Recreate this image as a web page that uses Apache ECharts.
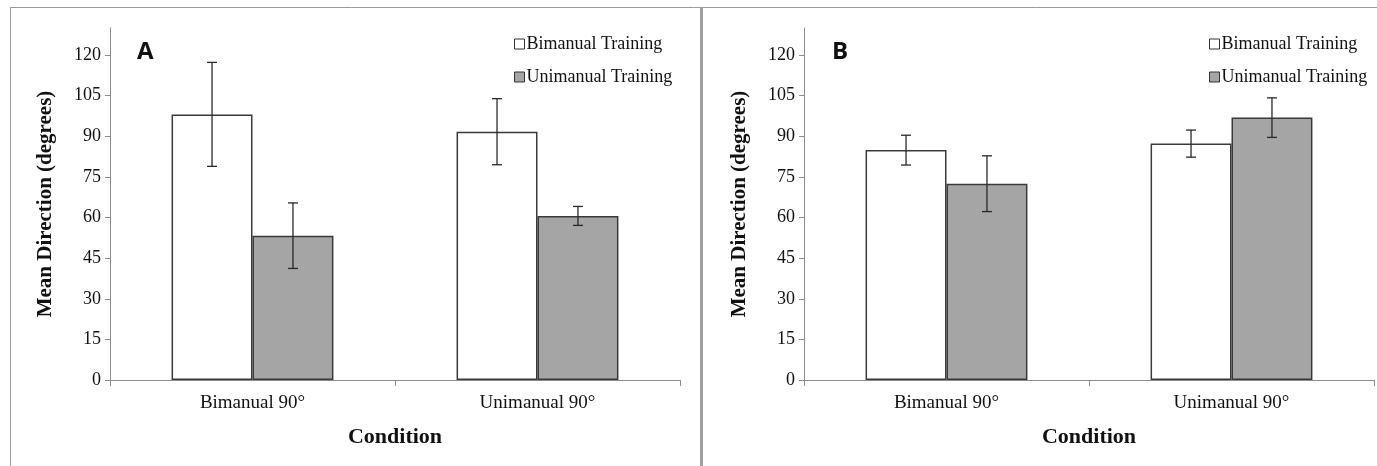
<!DOCTYPE html>
<html>
<head>
<meta charset="utf-8">
<script src="https://cdn.jsdelivr.net/npm/echarts@6/dist/echarts.min.js"></script>
<style>
html,body{margin:0;padding:0;background:#fff;}
#c{width:1377px;height:466px;}
</style>
</head>
<body>
<div id="c"></div>
<script>
const categories = ['Bimanual 90°', 'Unimanual 90°'];
const seriesNames = ['Bimanual Training', 'Unimanual Training'];
const yTicks = [0, 15, 30, 45, 60, 75, 90, 105, 120];
// Panel A
const aBimanualMean = [98.1, 91.7];
const aBimanualErr = [19.2, 12.2];
const aUnimanualMean = [53.3, 60.6];
const aUnimanualErr = [12.1, 3.5];
// Panel B
const bBimanualMean = [84.9, 87.3];
const bBimanualErr = [5.5, 5.0];
const bUnimanualMean = [72.5, 96.9];
const bUnimanualErr = [10.3, 7.3];

const serif = '"Liberation Serif", "DejaVu Serif", serif';
const axisGray = '#8c8c8c';
const barBorder = '#3a3a3a';
const grayFill = '#a5a5a5';
const BAR_PCT = 0.284;

function errData(means, errs, side) {
  return means.map((m, i) => [i, m, errs[i], side]);
}

function errRender(params, api) {
  const ci = api.value(0), m = api.value(1), e = api.value(2), side = api.value(3);
  const band = api.size([1, 0])[0];
  const off = (side === 0 ? -1 : 1) * band * BAR_PCT / 2;
  const top = api.coord([ci, m + e]);
  const bot = api.coord([ci, m - e]);
  const x = top[0] + off;
  const cap = 5;
  const st = { stroke: '#2a2a2a', lineWidth: 1.3 };
  return {
    type: 'group',
    children: [
      { type: 'line', shape: { x1: x, y1: top[1], x2: x, y2: bot[1] }, style: st },
      { type: 'line', shape: { x1: x - cap, y1: top[1], x2: x + cap, y2: top[1] }, style: st },
      { type: 'line', shape: { x1: x - cap, y1: bot[1], x2: x + cap, y2: bot[1] }, style: st }
    ]
  };
}

function xAxis(gi) {
  return {
    type: 'category', gridIndex: gi, data: categories,
    name: 'Condition', nameLocation: 'middle', nameGap: 46,
    nameTextStyle: { fontFamily: serif, fontWeight: 'bold', fontSize: 22, color: '#111' },
    axisLine: { lineStyle: { color: axisGray, width: 1 } },
    axisTick: { show: true, length: 6, lineStyle: { color: axisGray } },
    axisLabel: { fontFamily: serif, fontSize: 19, color: '#111', margin: 14 },
    splitLine: { show: false }
  };
}
function yAxis(gi) {
  return {
    type: 'value', gridIndex: gi, min: 0, max: 130, interval: 15,
    name: 'Mean Direction (degrees)', nameLocation: 'middle', nameGap: 54,
    nameTextStyle: { fontFamily: serif, fontWeight: 'bold', fontSize: 21, color: '#111' },
    axisLine: { show: true, lineStyle: { color: axisGray, width: 1 } },
    axisTick: { show: true, length: 5, lineStyle: { color: axisGray }, customValues: yTicks },
    axisLabel: { fontFamily: serif, fontSize: 18, color: '#111', margin: 9, customValues: yTicks },
    splitLine: { show: false }
  };
}
function bar(name, gi, data, fill) {
  return {
    name: name, type: 'bar', xAxisIndex: gi, yAxisIndex: gi, data: data,
    barWidth: (BAR_PCT * 100) + '%', barGap: '0%',
    itemStyle: { color: fill, borderColor: barBorder, borderWidth: 1.5 },
    emphasis: { disabled: true }, z: 2
  };
}
function err(gi, data) {
  return {
    type: 'custom', xAxisIndex: gi, yAxisIndex: gi, data: data,
    renderItem: errRender, z: 5, silent: true
  };
}
function legend(left) {
  return {
    data: seriesNames, orient: 'vertical', left: left, top: 30,
    icon: 'rect', itemWidth: 10, itemHeight: 10, itemGap: 15,
    textStyle: { fontFamily: serif, fontSize: 18, color: '#111', padding: [0, 0, 0, -3] },
    itemStyle: { borderColor: '#333', borderWidth: 1 },
    selectedMode: false
  };
}

const chart = echarts.init(document.getElementById('c'), null, { renderer: 'canvas' });
chart.setOption({
  backgroundColor: '#fff',
  animation: false,
  grid: [
    { left: 110, right: 697, top: 28, bottom: 86 },
    { left: 804, right: 3, top: 28, bottom: 86 }
  ],
  xAxis: [xAxis(0), xAxis(1)],
  yAxis: [yAxis(0), yAxis(1)],
  legend: [legend(509), legend(1204)],
  series: [
    bar(seriesNames[0], 0, aBimanualMean, '#ffffff'),
    bar(seriesNames[1], 0, aUnimanualMean, grayFill),
    bar(seriesNames[0], 1, bBimanualMean, '#ffffff'),
    bar(seriesNames[1], 1, bUnimanualMean, grayFill),
    err(0, errData(aBimanualMean, aBimanualErr, 0)),
    err(0, errData(aUnimanualMean, aUnimanualErr, 1)),
    err(1, errData(bBimanualMean, bBimanualErr, 0)),
    err(1, errData(bUnimanualMean, bUnimanualErr, 1))
  ],
  graphic: [
    { type: 'line', shape: { x1: 10, y1: 7.5, x2: 1377, y2: 7.5 }, style: { stroke: '#9a9a9a', lineWidth: 1 }, silent: true },
    { type: 'line', shape: { x1: 10.5, y1: 7, x2: 10.5, y2: 466 }, style: { stroke: '#9a9a9a', lineWidth: 1 }, silent: true },
    { type: 'line', shape: { x1: 701.5, y1: 7, x2: 701.5, y2: 466 }, style: { stroke: '#a0a0a0', lineWidth: 3 }, silent: true },
    { type: 'text', left: 137, top: 40, style: { text: 'A', font: 'bold 24px "Open Sans", "Liberation Sans", sans-serif', fill: '#111' }, silent: true },
    { type: 'text', left: 832, top: 40, style: { text: 'B', font: 'bold 24px "Open Sans", "Liberation Sans", sans-serif', fill: '#111' }, silent: true }
  ]
});
</script>
</body>
</html>
